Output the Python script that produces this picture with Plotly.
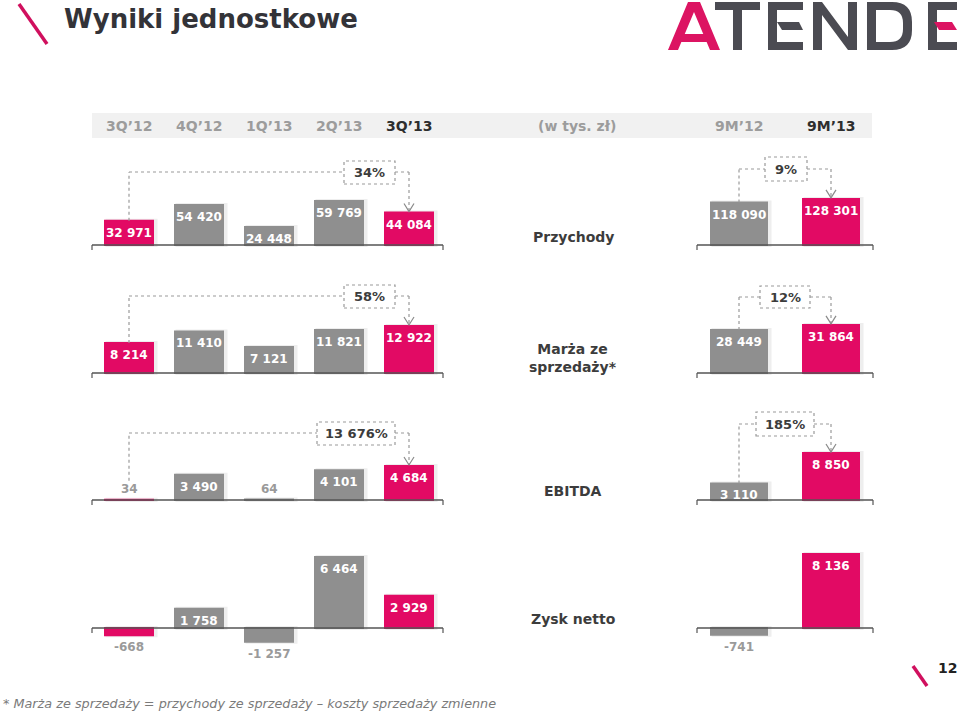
import plotly.graph_objects as go

# ---------------- data ----------------
quarters = ["3Q’12", "4Q’12", "1Q’13", "2Q’13", "3Q’13"]
periods = ["9M’12", "9M’13"]
unit_label = "(w tys. zł)"
metrics = ["Przychody", "Marża ze<br>sprzedaży*", "EBITDA", "Zysk netto"]

przychody_q = [32971, 54420, 24448, 59769, 44084]
przychody_9m = [118090, 128301]
marza_q = [8214, 11410, 7121, 11821, 12922]
marza_9m = [28449, 31864]
ebitda_q = [34, 3490, 64, 4101, 4684]
ebitda_9m = [3110, 8850]
zysk_q = [-668, 1758, -1257, 6464, 2929]
zysk_9m = [-741, 8136]

zmiana_q = ["34%", "58%", "13 676%", None]
zmiana_9m = ["9%", "12%", "185%", None]

highlight_q = [True, False, False, False, True]
highlight_9m = [False, True]

title = "Wyniki jednostkowe"
footnote = "* Marża ze sprzedaży = przychody ze sprzedaży – koszty sprzedaży zmienne"
page_no = "12"

# ---------------- style / layout ----------------
W, H = 960, 713
PINK = "#E20A64"
GREY = "#8F8F8F"
LGREY = "#9A9A9A"
DARK = "#3C3C3C"
LOGO_PINK = "#DC1462"
LOGO_GREY = "#4B4B52"
FONT = "DejaVu Sans"


def px2p(px):
    return px / W


def py2p(py):
    return 1 - py / H


L_DOM = (94, 444)
R_DOM = (693, 877)
L_UNIT = (L_DOM[1] - L_DOM[0]) / 5
R_UNIT = (R_DOM[1] - R_DOM[0]) / 2

rows = [
    dict(q=przychody_q, m=przychody_9m, base=245, top=140, bottom=258, sL=0.000736, sR=0.000359,
         connL=dict(level=172, box=(344, 395, 161, 184)),
         connR=dict(level=169, box=(765, 807, 157, 181))),
    dict(q=marza_q, m=marza_9m, base=373, top=270, bottom=385, sL=0.00364, sR=0.00151,
         connL=dict(level=296, box=(344, 395, 285, 308)),
         connR=dict(level=297, box=(760, 810, 286, 308))),
    dict(q=ebitda_q, m=ebitda_9m, base=500, top=400, bottom=512, sL=0.00726, sR=0.00531,
         connL=dict(level=433, box=(317, 395, 422, 445)),
         connR=dict(level=424, box=(756, 814, 412, 436))),
    dict(q=zysk_q, m=zysk_9m, base=628, top=530, bottom=670, sL=0.01098, sR=0.0091,
         connL=None, connR=None),
]
row_label_y = [237, 358, 491, 619]

fig = go.Figure()
shapes = []
annotations = []


def aref(n, axis):
    return axis if n == 1 else f"{axis}{n}"


def fmt(v):
    return f"{v:,}".replace(",", " ")


def txt(x, y, text, size, color, xref="paper", yref="paper", xanchor="center", yanchor="middle",
        family=FONT, **kw):
    d = dict(x=x, y=y, xref=xref, yref=yref, text=text, showarrow=False, xanchor=xanchor,
             yanchor=yanchor, font=dict(family=family, size=size, color=color))
    d.update(kw)
    return d


for r, row in enumerate(rows):
    for side in ("L", "R"):
        n = 2 * r + (1 if side == "L" else 2)
        vals = row["q"] if side == "L" else row["m"]
        hl = highlight_q if side == "L" else highlight_9m
        scale = row["s" + side]
        dom = L_DOM if side == "L" else R_DOM
        unit = L_UNIT if side == "L" else R_UNIT
        bw_px = 48 if side == "L" else 56
        bw = bw_px / unit
        xs = list(range(len(vals)))
        xr, yr = aref(n, "x"), aref(n, "y")
        cols = [PINK if h else GREY for h in hl]

        fig.layout[f"xaxis{'' if n == 1 else n}"] = dict(
            domain=[px2p(dom[0]), px2p(dom[1])], range=[-0.5, len(vals) - 0.5],
            visible=False, fixedrange=True)
        fig.layout[f"yaxis{'' if n == 1 else n}"] = dict(
            domain=[py2p(row["bottom"]), py2p(row["top"])],
            range=[-(row["bottom"] - row["base"]) / scale, (row["base"] - row["top"]) / scale],
            visible=False, fixedrange=True, anchor=xr)

        # soft shadow
        fig.add_trace(go.Bar(
            x=xs, y=vals, xaxis=xr, yaxis=yr, width=bw, offset=-bw / 2 + 2.5 / unit,
            marker=dict(color="#E2E2E2", line=dict(color="#EEEEEE", width=4)),
            hoverinfo="skip", showlegend=False))
        # bars
        fig.add_trace(go.Bar(
            x=xs, y=vals, xaxis=xr, yaxis=yr, width=bw, offset=-bw / 2,
            marker=dict(color=cols, line=dict(color=cols, width=2)),
            hoverinfo="skip", showlegend=False))

        for i, v in enumerate(vals):
            h = abs(v) * scale
            if v > 0 and h >= 15:
                annotations.append(txt(i, v, f"<b>{fmt(v)}</b>", 12, "white", xr, yr, yanchor="top", yshift=-3))
            elif v > 0:
                annotations.append(txt(i, v, f"<b>{fmt(v)}</b>", 12, LGREY, xr, yr, yanchor="bottom", yshift=2))
            else:
                annotations.append(txt(i, v, f"<b>{fmt(v)}</b>", 12, LGREY, xr, yr, yanchor="top", yshift=-3))

        # baseline with bracket ends
        x0p, x1p = (92, 443) if side == "L" else (697, 873)
        shapes.append(dict(type="line", xref="paper", yref=yr, x0=px2p(x0p), x1=px2p(x1p), y0=0, y1=0,
                           line=dict(color="#555555", width=1.5)))
        for xe in (x0p, x1p):
            shapes.append(dict(type="line", xref="paper", yref=yr, x0=px2p(xe), x1=px2p(xe),
                               y0=0, y1=-5 / scale, line=dict(color="#555555", width=1.2)))

        # change connector
        conn = row["conn" + side]
        label = (zmiana_q if side == "L" else zmiana_9m)[r]
        if conn and label:
            lvl = (row["base"] - conn["level"]) / scale
            first, last = 0, len(vals) - 1
            v0 = vals[first]
            start = v0 + (19 / scale if v0 * scale < 15 else 0)
            dot = dict(color=LGREY, width=1.2, dash="dot")
            shapes.append(dict(type="line", xref=xr, yref=yr, x0=first, x1=first, y0=start, y1=lvl, line=dot))
            bl, br, bt, bb = conn["box"]
            xf = (bl - dom[0]) / unit - 0.5
            xb = (br - dom[0]) / unit - 0.5
            shapes.append(dict(type="line", xref=xr, yref=yr, x0=first, x1=xf, y0=lvl, y1=lvl, line=dot))
            shapes.append(dict(type="line", xref=xr, yref=yr, x0=xb, x1=last, y0=lvl, y1=lvl, line=dot))
            tip = vals[last] + 1 / scale
            shapes.append(dict(type="line", xref=xr, yref=yr, x0=last, x1=last, y0=lvl, y1=tip, line=dot))
            shapes.append(dict(type="rect", xref="paper", yref="paper", x0=px2p(bl), x1=px2p(br),
                               y0=py2p(bb), y1=py2p(bt), line=dot, fillcolor="white"))
            dx, dy = 5 / unit, 8 / scale
            shapes.append(dict(type="path", xref=xr, yref=yr,
                               path=f"M {last - dx},{tip + dy} L {last},{tip} L {last + dx},{tip + dy}",
                               line=dict(color="#8A8A8A", width=1.2)))
            annotations.append(txt(px2p((bl + br) / 2), py2p((bt + bb) / 2), f"<b>{label}</b>", 13, DARK))

    annotations.append(txt(px2p(573), py2p(row_label_y[r]), f"<b>{metrics[r]}</b>", 14, DARK))

# header band
shapes.insert(0, dict(type="rect", xref="paper", yref="paper", x0=px2p(92), x1=px2p(872),
                      y0=py2p(138), y1=py2p(113), fillcolor="#F1F1F1", line=dict(width=0), layer="below"))
for i, q in enumerate(quarters):
    last = i == len(quarters) - 1
    annotations.append(txt(i, py2p(126), f"<b>{q}</b>", 14, "#2E2E2E" if last else "#9C9C9C", xref="x"))
for i, p in enumerate(periods):
    last = i == len(periods) - 1
    annotations.append(txt(i, py2p(126), f"<b>{p}</b>", 14, "#2E2E2E" if last else "#9C9C9C", xref="x2"))
annotations.append(txt(px2p(577), py2p(126), f"<b>{unit_label}</b>", 14, "#9C9C9C"))

# title, slashes, page number, footnote
annotations.append(txt(px2p(62), py2p(19), f"<b>{title}</b>", 26, "#333338", xanchor="left"))
shapes.append(dict(type="line", xref="paper", yref="paper", x0=px2p(19), y0=py2p(4), x1=px2p(47), y1=py2p(44),
                   line=dict(color="#D0105E", width=3.5)))
shapes.append(dict(type="line", xref="paper", yref="paper", x0=px2p(913), y0=py2p(666), x1=px2p(927),
                   y1=py2p(686), line=dict(color="#D0105E", width=3.5)))
annotations.append(txt(px2p(947), py2p(668), f"<b>{page_no}</b>", 14, "#222222"))
annotations.append(txt(px2p(1), py2p(703), f"<i>{footnote}</i>", 12.8, "#7A7A7A", xanchor="left"))


# logo drawn as vector shapes (pixel outlines -> paper coords)
def pt(x, y):
    return f"{px2p(x):.5f},{py2p(y):.5f}"


def poly(points):
    return "M " + " L ".join(pt(x, y) for x, y in points) + " Z"


def logo_shape(path, color):
    shapes.append(dict(type="path", xref="paper", yref="paper", path=path, fillcolor=color,
                       line=dict(width=0)))


logo_shape(poly([(668, 50), (688, 2), (700, 2), (720, 50), (710, 50), (694, 12), (678, 50)]), LOGO_PINK)
logo_shape(poly([(682, 34), (705, 34), (708, 42), (679, 42)]), LOGO_PINK)
logo_shape(poly([(715, 2), (760, 2), (760, 10), (742, 10), (742, 50), (733, 50), (733, 10), (715, 10)]), LOGO_GREY)
logo_shape(poly([(768, 2), (803, 2), (803, 10), (777, 10), (777, 42), (803, 42), (803, 50), (768, 50)]), LOGO_GREY)
logo_shape(poly([(777, 22), (799, 22), (803, 30), (782, 30)]), LOGO_GREY)
logo_shape(poly([(813, 50), (813, 2), (822, 2), (848, 37), (848, 2), (857, 2), (857, 50), (848, 50),
                 (822, 15), (822, 50)]), LOGO_GREY)
d_path = (f"M {pt(867, 2)} L {pt(892, 2)} Q {pt(912, 2)} {pt(912, 22)} L {pt(912, 30)} "
          f"Q {pt(912, 50)} {pt(892, 50)} L {pt(867, 50)} Z "
          f"M {pt(876, 10)} L {pt(876, 42)} L {pt(890, 42)} Q {pt(903, 42)} {pt(903, 29)} "
          f"L {pt(903, 23)} Q {pt(903, 10)} {pt(890, 10)} Z")
logo_shape(d_path, LOGO_GREY)
logo_shape(poly([(928, 2), (957, 2), (957, 10), (937, 10), (937, 42), (957, 42), (957, 50), (928, 50)]), LOGO_GREY)
logo_shape(poly([(934, 22), (952, 22), (957, 30), (939, 30)]), LOGO_PINK)

fig.update_layout(width=W, height=H, margin=dict(l=0, r=0, t=0, b=0), paper_bgcolor="white",
                  plot_bgcolor="rgba(0,0,0,0)", barmode="overlay", shapes=shapes, annotations=annotations,
                  showlegend=False)
fig.write_html("out.html", config={"displayModeBar": False},
               post_script="document.body.style.margin='0';")
